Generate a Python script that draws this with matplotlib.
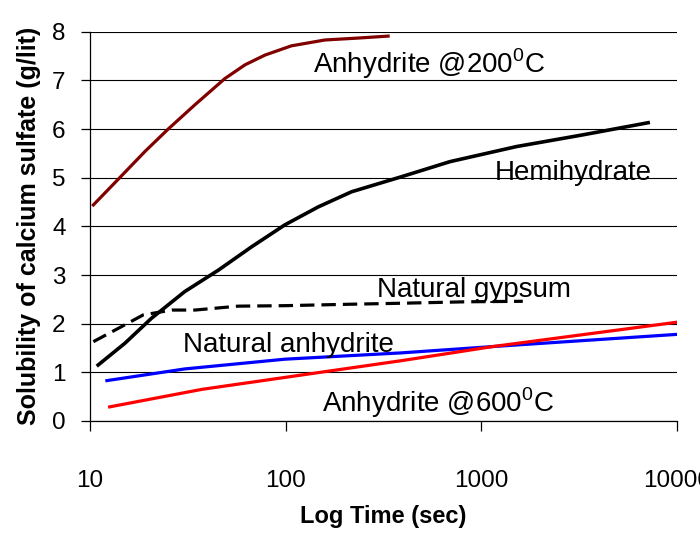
import numpy as np
import matplotlib
matplotlib.use("Agg")
import matplotlib.pyplot as plt

plt.rcParams['font.family'] = ['Liberation Sans', 'DejaVu Sans']
plt.rcParams['mathtext.fontset'] = 'custom'
plt.rcParams['mathtext.rm'] = 'Liberation Sans'

# values (time in sec, solubility in g/lit)
t_anh200 = [10.4, 13.95, 19.1, 25.1, 34.4, 49, 62, 78.4, 107, 158.6, 235, 334]
s_anh200 = [4.44, 4.97, 5.54, 6.00, 6.50, 7.04, 7.32, 7.52, 7.71, 7.83, 7.87, 7.91]

t_hemi = [11.0, 15.1, 20.6, 30.5, 45.3, 67, 99, 146.8, 217, 391, 692, 1514, 3300, 7130]
s_hemi = [1.15, 1.60, 2.11, 2.66, 3.10, 3.58, 4.03, 4.40, 4.71, 5.02, 5.33, 5.64, 5.88, 6.13]

t_gyps = [10.4, 14.5, 18.7, 26.2, 34.4, 57, 99, 217, 391, 843, 1630]
s_gyps = [1.63, 1.94, 2.18, 2.28, 2.28, 2.36, 2.37, 2.40, 2.42, 2.45, 2.46]

t_natanh = [12.2, 30.5, 99, 391, 1147, 10000]
s_natanh = [0.83, 1.07, 1.27, 1.40, 1.53, 1.78]

t_anh600 = [12.6, 37.3, 391, 1147, 10000]
s_anh600 = [0.29, 0.65, 1.24, 1.53, 2.03]

fig = plt.figure(figsize=(7, 5.35), dpi=100)
ax = fig.add_axes([0.1286, 0.2131, 0.8384, 0.7276])

ax.plot(t_anh200, s_anh200, color='#800000', lw=2.3)
ax.plot(t_hemi, s_hemi, color='black', lw=2.6)
ax.plot(t_gyps, s_gyps, color='black', lw=2.3, linestyle=(0, (4.5, 2.2)))
ax.plot(t_natanh, s_natanh, color='#0000ff', lw=2.3)
ax.plot(t_anh600, s_anh600, color='#ff0000', lw=2.3)

ax.set_xscale('log')
ax.set_xlim(10, 10000)
ax.set_ylim(0, 8)
ax.set_xticks([10, 100, 1000, 10000])
ax.set_xticklabels(['10', '100', '1000', '10000'])
ax.minorticks_off()
ax.set_yticks(range(0, 9))

ax.yaxis.grid(True, color='black', lw=0.8)
ax.set_axisbelow(True)
for s in ['top', 'right']:
    ax.spines[s].set_visible(False)
ax.spines['left'].set_linewidth(0.9)
ax.spines['bottom'].set_linewidth(0.9)
ax.tick_params(axis='y', direction='out', length=6.5, width=0.9, pad=11, labelsize=17.5)
ax.tick_params(axis='x', direction='out', length=7, width=0.9, pad=28, labelsize=17.5)

ax.set_xlabel('Log Time (sec)', fontsize=17, fontweight='bold', labelpad=10)
ax.set_ylabel('Solubility of calcium sulfate (g/lit)', fontsize=18, fontweight='bold', labelpad=8)

lbl = dict(fontsize=20, ha='left', va='baseline')
ax.text(138, 7.15, r'Anhydrite @200$^{\mathrm{0}}$C', **lbl)
ax.text(1175, 4.95, 'Hemihydrate', **lbl)
ax.text(293, 2.55, 'Natural gypsum', **lbl)
ax.text(29.9, 1.42, 'Natural anhydrite', **lbl)
ax.text(153, 0.185, r'Anhydrite @600$^{\mathrm{0}}$C', **lbl)

fig.savefig('out.png', dpi=100)
